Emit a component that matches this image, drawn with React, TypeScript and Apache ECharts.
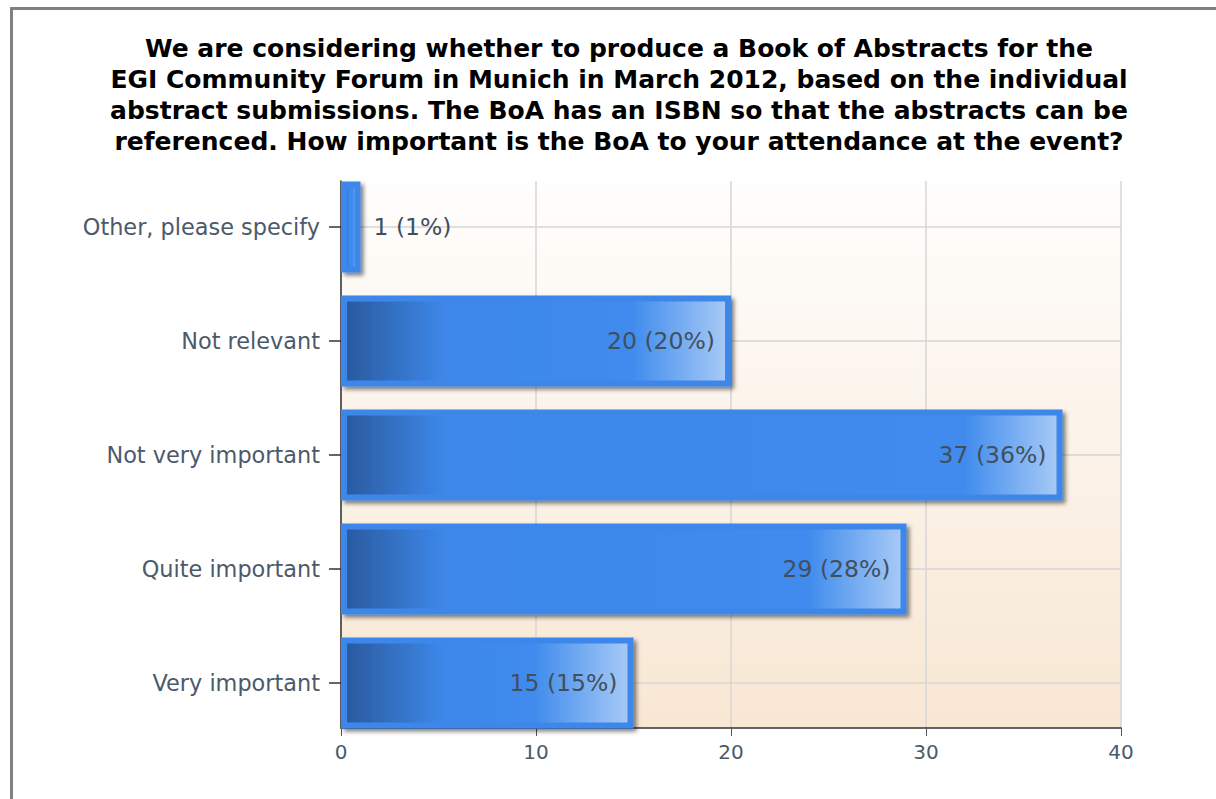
import React, { useEffect, useRef } from "react";
import * as echarts from "echarts";

const titleLines = [
  "We are considering whether to produce a Book of Abstracts for the",
  "EGI Community Forum in Munich in March 2012, based on the individual",
  "abstract submissions. The BoA has an ISBN so that the abstracts can be",
  "referenced. How important is the BoA to your attendance at the event?",
];
const categories = [
  "Other, please specify",
  "Not relevant",
  "Not very important",
  "Quite important",
  "Very important",
];
const counts = [1, 20, 37, 29, 15];
const percents = [1, 20, 36, 28, 15];
const xMin = 0;
const xMax = 40;
const xInterval = 10;

const PX_PER_UNIT = 19.5;

function barGradient(v: number) {
  const w = Math.max(v * PX_PER_UNIT - 12, 1);
  const d = Math.min(0.35, 100 / w);
  const l = Math.min(0.35, 95 / w);
  return new echarts.graphic.LinearGradient(0, 0, 1, 0, [
    { offset: 0, color: "#2a599e" },
    { offset: d, color: "#3d88ea" },
    { offset: 1 - l, color: "#3f8bed" },
    { offset: 1, color: "#a9cbf6" },
  ]);
}

export default function App() {
  const ref = useRef<HTMLDivElement>(null);
  useEffect(() => {
    if (!ref.current) return;
    const chart = echarts.init(ref.current, undefined, { renderer: "svg" });
    const labelColor = "#4b5a6b";
    const font = "'DejaVu Sans', Verdana, sans-serif";
    chart.setOption({
      animation: false,
      backgroundColor: "#ffffff",
      title: {
        text: titleLines.join("\n"),
        left: 614,
        top: 28,
        textAlign: "center",
        textStyle: {
          fontFamily: font,
          fontWeight: "bold",
          fontSize: 25,
          lineHeight: 31,
          color: "#000000",
        },
      },
      graphic: [
        {
          type: "rect",
          silent: true,
          z: 100,
          shape: { x: 11.5, y: 8.5, width: 1400, height: 1000 },
          style: { fill: "none", stroke: "#808080", lineWidth: 3 },
        },
      ],
      grid: [
        {
          left: 341,
          top: 181,
          width: 780,
          height: 547,
          show: true,
          borderWidth: 0,
          backgroundColor: new echarts.graphic.LinearGradient(0, 0, 0, 1, [
            { offset: 0, color: "#fffefd" },
            { offset: 1, color: "#f8e7d3" },
          ]),
        },
        {
          left: 341,
          top: 170,
          width: 780,
          height: 570,
          show: false,
        },
      ],
      xAxis: [
        {
          gridIndex: 0,
          type: "value",
          min: xMin,
          max: xMax,
          interval: xInterval,
          axisLine: { show: true, lineStyle: { color: "#333333", width: 1.5 } },
          axisTick: { show: true, length: 8, lineStyle: { color: "#555555" } },
          axisLabel: {
            fontFamily: font,
            fontSize: 20,
            color: labelColor,
            margin: 14,
          },
          splitLine: { show: true, lineStyle: { color: "#d6d6d6", width: 1.5 } },
        },
        {
          gridIndex: 1,
          type: "value",
          min: xMin,
          max: xMax,
          interval: xInterval,
          show: false,
        },
      ],
      yAxis: [
        {
          gridIndex: 0,
          type: "value",
          min: 0,
          max: 1,
          axisLine: { show: true, lineStyle: { color: "#333333", width: 1.5 } },
          axisTick: { show: false },
          axisLabel: { show: false },
          splitLine: { show: false },
        },
        {
          gridIndex: 1,
          type: "category",
          data: categories,
          inverse: true,
          axisLine: { show: false },
          axisTick: {
            show: true,
            alignWithLabel: true,
            length: 12,
            lineStyle: { color: "#333333", width: 1.5 },
          },
          axisLabel: {
            fontFamily: font,
            fontSize: 22.4,
            color: labelColor,
            margin: 21,
          },
          splitLine: {
            show: true,
            alignWithLabel: true,
            lineStyle: { color: "#d6d6d6", width: 1.5 },
          },
        },
      ],
      series: [
        {
          type: "bar",
          xAxisIndex: 1,
          yAxisIndex: 1,
          barCategoryGap: "20%",
          data: counts.map((v) => ({
            value: v,
            itemStyle: { color: barGradient(v) },
            label:
              v < 3
                ? { position: "right", distance: 13 }
                : { position: "insideRight", distance: 16 },
          })),
          itemStyle: {
            borderColor: "#3e87ea",
            borderWidth: 6,
            shadowColor: "rgba(0,0,0,0.5)",
            shadowBlur: 4,
            shadowOffsetX: 3,
            shadowOffsetY: 3,
          },
          label: {
            show: true,
            fontFamily: font,
            fontSize: 23.5,
            color: "#414f5d",
            formatter: (p: any) => `${counts[p.dataIndex]} (${percents[p.dataIndex]}%)`,
          },
        },
      ],
    });
    return () => chart.dispose();
  }, []);
  return (
    <div
      ref={ref}
      style={{ position: "fixed", left: 0, top: 0, width: 1216, height: 799 }}
    />
  );
}
